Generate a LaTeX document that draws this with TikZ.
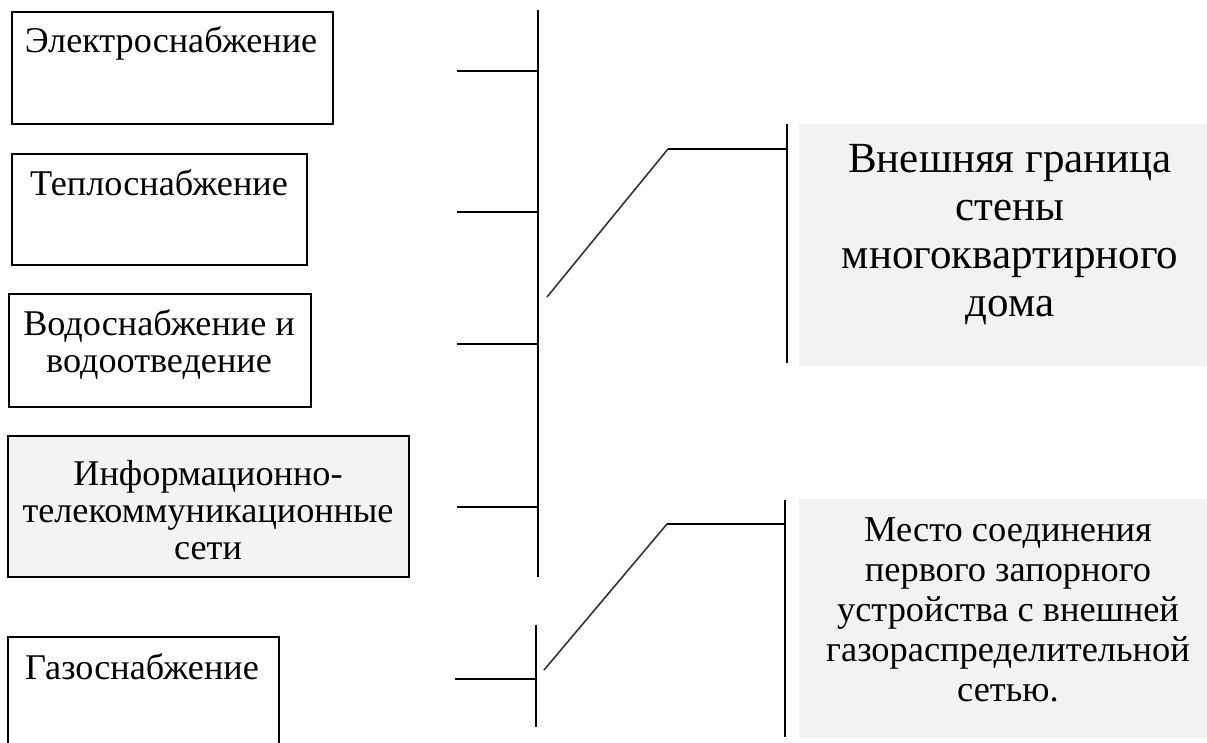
\documentclass[tikz,border=0pt]{standalone}
\usepackage{fontspec}
\setmainfont{Liberation Serif}
\usetikzlibrary{positioning}
\definecolor{panelgray}{RGB}{242,242,240}
\definecolor{boxgray}{RGB}{243,243,243}

\begin{document}
\begin{tikzpicture}[x=0.5pt, y=-0.5pt, line width=1pt,
    svcbox/.style={draw, inner sep=0pt, anchor=north west},
    svctext/.style={font=\fontsize{18.1}{18.5}\selectfont, align=center, inner sep=0pt},
    panel/.style={fill=panelgray, inner sep=0pt, anchor=north west},
    diag/.style={line width=0.8pt, black!80}]
    \useasboundingbox (0,0) rectangle (1207,743);

    % service boxes
    \node[svcbox, minimum width=160.5pt, minimum height=56pt] (elec) at (11,11) {};
    \node[svctext] (elecT) at (171,43) {Электроснабжение};
    \node[svcbox, minimum width=147.5pt, minimum height=55.5pt] (heat) at (11,153) {};
    \node[svctext] (heatT) at (159,183) {Теплоснабжение};
    \node[svcbox, minimum width=151pt, minimum height=56.5pt] (water) at (8,293) {};
    \node[svctext] (waterT) at (159,345) {Водоснабжение и\\водоотведение};
    \node[svcbox, fill=boxgray, minimum width=200.5pt, minimum height=70.5pt] (tele) at (7,435) {};
    \node[svctext] (teleT) at (208,510) {Информационно-\\телекоммуникационные\\сети};
    \node[svcbox, minimum width=135.5pt, minimum height=58pt] (gas) at (7,636) {};
    \node[svctext] (gasT) at (142,667) {Газоснабжение};

    % main bus with stubs
    \coordinate (busTop) at (538,10);
    \coordinate (busBot) at (538,577);
    \draw (busTop) -- (busBot);
    \foreach \y/\n in {71/1, 212/2, 344/3, 507/4} {
        \coordinate (s\n) at (457,\y);
        \draw (s\n) -- (s\n -| busTop);
    }

    % gas bus
    \coordinate (gasTop) at (536,625);
    \coordinate (gasBot) at (536,727);
    \draw (gasTop) -- (gasBot);
    \coordinate (s5) at (455,679);
    \draw (s5) -- (s5 -| gasTop);

    % outer wall boundary
    \node[panel, minimum width=204.5pt, minimum height=121pt] (wall) at (798,123) {};
    \node[font=\fontsize{21.5}{24}\selectfont, align=center, inner sep=0pt] (wallT) at (1010,235)
        {Внешняя граница\\стены\\многоквартирного\\дома};
    \coordinate (wallTop) at (787,124);
    \coordinate (wallBot) at (787,363);
    \draw (wallTop) -- (wallBot);
    \coordinate (wA) at (547,297);
    \coordinate (wB) at (668,149);
    \draw[diag] (wA) -- (wB);
    \draw (wB) -- (wB -| wallTop);

    % gas joint point
    \node[panel, minimum width=204.5pt, minimum height=119.5pt] (joint) at (798,498) {};
    \node[font=\fontsize{18.2}{20}\selectfont, align=center, inner sep=0pt] (jointT) at (1008,610)
        {Место соединения\\первого запорного\\устройства с внешней\\газораспределительной\\сетью.};
    \coordinate (jointTop) at (785,500);
    \coordinate (jointBot) at (785,737);
    \draw (jointTop) -- (jointBot);
    \coordinate (gA) at (544,670);
    \coordinate (gB) at (667,524);
    \draw[diag] (gA) -- (gB);
    \draw (gB) -- (gB -| jointTop);
\end{tikzpicture}
\end{document}
